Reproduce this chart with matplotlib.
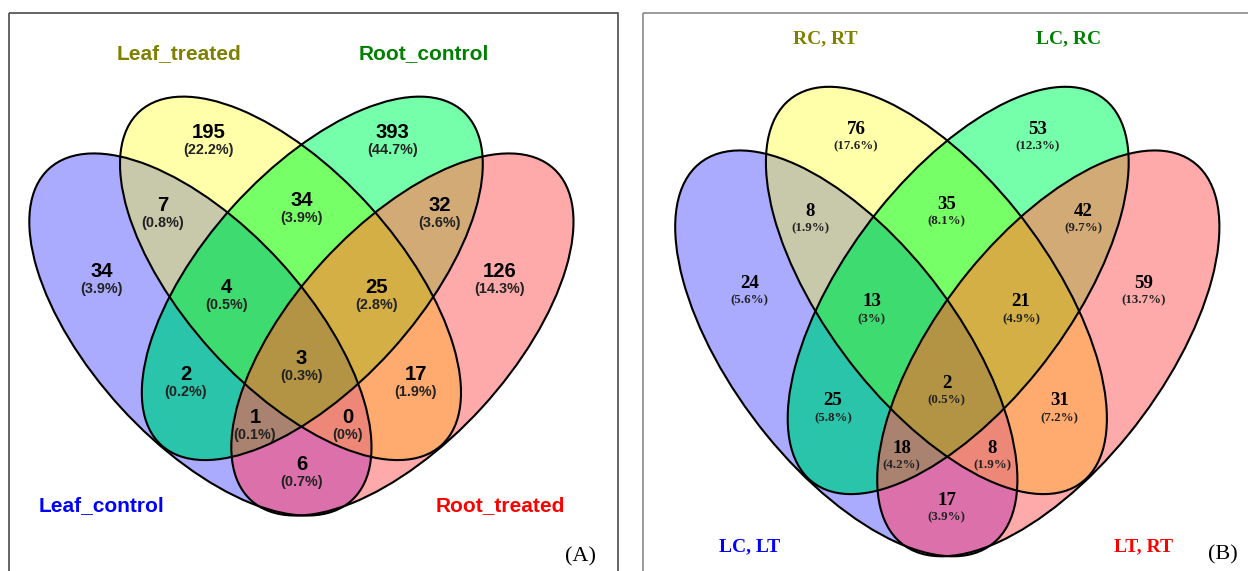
import numpy as np
import matplotlib
matplotlib.use("Agg")
import matplotlib.pyplot as plt
from matplotlib.patches import Ellipse, Rectangle
from matplotlib.transforms import Affine2D

# ---------------- data ----------------
# region keys: membership in (set1, set2, set3, set4)
regions = ["1000", "0100", "0010", "0001", "1100", "0110", "0011",
           "1110", "0111", "1111", "1010", "0101", "1011", "1101", "1001"]

names_A = ["Leaf_control", "Leaf_treated", "Root_control", "Root_treated"]
counts_A = [34, 195, 393, 126, 7, 34, 32, 4, 25, 3, 2, 17, 1, 0, 6]
pcts_A = ["3.9%", "22.2%", "44.7%", "14.3%", "0.8%", "3.9%", "3.6%", "0.5%",
          "2.8%", "0.3%", "0.2%", "1.9%", "0.1%", "0%", "0.7%"]

names_B = ["LC, LT", "RC, RT", "LC, RC", "LT, RT"]
counts_B = [24, 76, 53, 59, 8, 35, 42, 13, 21, 2, 25, 31, 18, 8, 17]
pcts_B = ["5.6%", "17.6%", "12.3%", "13.7%", "1.9%", "8.1%", "9.7%", "3%",
          "4.9%", "0.5%", "5.8%", "7.2%", "4.2%", "1.9%", "3.9%"]

panel_tags = ["(A)", "(B)"]

# ---------------- style / layout ----------------
W, H = 1248, 571
set_colors = ["#0000FF", "#808000", "#008000", "#FF0000"]
region_colors = {
    "1000": "#AAAAFF", "0100": "#FFFFAA", "0010": "#77FFAA", "0001": "#FFAAAA",
    "1100": "#C8C8AA", "0110": "#77FF66", "0011": "#D2AA77", "1110": "#3DDB70",
    "0111": "#D4AF46", "1111": "#B39444", "1010": "#2AC4AA", "0101": "#FFAA6E",
    "1011": "#AA8270", "1101": "#EE8878", "1001": "#DB70AA",
}
# ellipse geometry in panel-A pixel units: cx, cy, a, b, angle (y down)
ELL = [(200.4, 334.5, 224.5, 108.0, 47.6),
       (290.5, 278.35, 225.0, 107.1, 47.9),
       (312.3, 278.35, 225.0, 107.1, 132.1),
       (402.4, 334.5, 224.5, 108.0, 132.4)]
B_DX, B_SY, B_DY = 645.9, 1.1207, -21.5

pos_A = {"1000": (101.6, 269.5), "0100": (208.8, 131), "0010": (392.8, 131),
         "0001": (500, 269.5), "1100": (162.7, 203.5), "0110": (301.4, 199),
         "0011": (439.8, 203.5), "1110": (226.1, 285.5), "0111": (376.3, 285.5),
         "1111": (301.4, 357), "1010": (186, 373.3), "0101": (415.7, 373.3),
         "1011": (255, 415.5), "1101": (347.4, 415.5), "1001": (301.4, 463.2)}
pos_B = {"1000": (749.7, 281.5), "0100": (855.9, 127.5), "0010": (1037.3, 127.5),
         "0001": (1143.9, 281.5), "1100": (810.5, 209.4), "0110": (946.8, 202.5),
         "0011": (1083, 209.4), "1110": (871.8, 299.8), "0111": (1021, 299.8),
         "1111": (946.8, 381), "1010": (833, 398.8), "0101": (1059.8, 398.8),
         "1011": (901.8, 446.3), "1101": (992, 446.3), "1001": (946.8, 498.7)}
label_pos_A = [(102, 511.5), (179, 59), (424, 59), (500, 511.5)]
label_pos_B = [(750, 551.5), (825.5, 43), (1068.5, 43), (1143, 551.5)]

fig = plt.figure(figsize=(W / 100, H / 100), dpi=100)
ax = fig.add_axes([0, 0, 1, 1])
ax.set_xlim(0, W)
ax.set_ylim(H, 0)
ax.axis("off")


def inside(x, y, e):
    cx, cy, a, b, ang = e
    t = np.deg2rad(ang)
    dx, dy = x - cx, y - cy
    u = dx * np.cos(t) + dy * np.sin(t)
    v = -dx * np.sin(t) + dy * np.cos(t)
    return (u / a) ** 2 + (v / b) ** 2 <= 1


# region fills
ss = 2
xs = (np.arange(W * ss) + 0.5) / ss
ys = (np.arange(H * ss) + 0.5) / ss
X, Y = np.meshgrid(xs, ys)
left = X < 630
XA = np.where(left, X, X - B_DX)
YA = np.where(left, Y, (Y - B_DY) / B_SY)
code = np.zeros(X.shape, dtype=int)
for i, e in enumerate(ELL):
    code |= inside(XA, YA, e).astype(int) << (3 - i)
lut = np.zeros((16, 4))
for key, col in region_colors.items():
    lut[int(key, 2)] = matplotlib.colors.to_rgba(col)
img = lut[code]
ax.imshow(img, extent=(0, W, H, 0), interpolation="antialiased", zorder=1)

# outlines
trB = Affine2D().scale(1, B_SY).translate(B_DX, B_DY) + ax.transData
for e in ELL:
    cx, cy, a, b, ang = e
    ax.add_patch(Ellipse((cx, cy), 2 * a, 2 * b, angle=ang, fill=False,
                         ec="black", lw=1.5, zorder=2))
    ax.add_patch(Ellipse((cx, cy), 2 * a, 2 * b, angle=ang, fill=False,
                         ec="black", lw=1.5, zorder=2, transform=trB))

# panel frames
ax.add_patch(Rectangle((9, 13), 609, 600, fill=False, ec="#4a4a4a", lw=1.2, zorder=4))
ax.add_patch(Rectangle((643, 13), 620, 600, fill=False, ec="#8a8a8a", lw=1.2, zorder=4))

# numbers panel A
for r, n, p in zip(regions, counts_A, pcts_A):
    x, y = pos_A[r]
    ax.text(x, y + 7.2, str(n), ha="center", va="baseline", fontsize=14.6,
            fontweight="bold", family="Liberation Sans", zorder=5)
    ax.text(x, y + 18.3 + 4.8, f"({p})", ha="center", va="baseline", fontsize=10.4,
            fontweight="bold", family="Liberation Sans", color="#222222", zorder=5)
for nm, (x, y), c in zip(names_A, label_pos_A, set_colors):
    ax.text(x, y, nm, ha="center", va="baseline", fontsize=15, fontweight="bold",
            family="Liberation Sans", color=c, zorder=5)

# numbers panel B
for r, n, p in zip(regions, counts_B, pcts_B):
    x, y = pos_B[r]
    ax.text(x, y + 6.6, str(n), ha="center", va="baseline", fontsize=13.6,
            fontweight="bold", family="Liberation Serif", zorder=5)
    ax.text(x, y + 17.6 + 4.4, f"({p})", ha="center", va="baseline", fontsize=9.3,
            fontweight="bold", family="Liberation Serif", color="#222222", zorder=5)
for nm, (x, y), c in zip(names_B, label_pos_B, set_colors):
    ax.text(x, y, nm, ha="center", va="baseline", fontsize=14, fontweight="bold",
            family="Liberation Serif", color=c, zorder=5)

ax.text(581, 561.5, panel_tags[0], ha="center", va="baseline", fontsize=16,
        family="Liberation Serif", zorder=5)
ax.text(1223, 559, panel_tags[1], ha="center", va="baseline", fontsize=16,
        family="Liberation Serif", zorder=5)

fig.savefig("out.png", dpi=100)
